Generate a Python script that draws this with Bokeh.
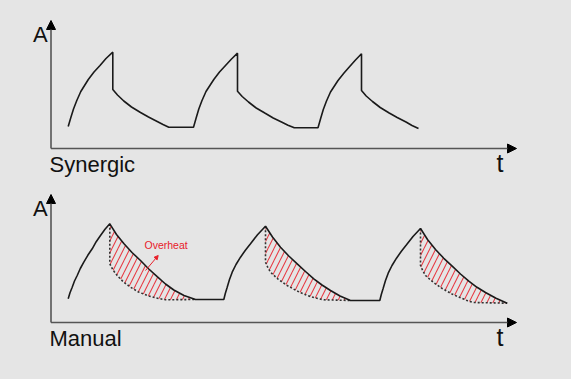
from bokeh.plotting import figure
from bokeh.layouts import column
from bokeh.models import Range1d, Arrow, NormalHead, Label
from bokeh.embed import file_html
from bokeh.resources import INLINE

# ---------------- data ----------------
# Synergic: amplitude A over time t
syn_t = [17.2, 19.7, 22.5, 25.8, 29.8, 37.3, 43.0, 49.0, 55.0, 61.8,
         61.8, 66.5, 72.8, 80.5, 89.5, 97.5, 106.2, 112.0, 117.8, 142.5,
         145.0, 147.8, 151.0, 155.0, 162.8, 168.5, 174.5, 180.5, 186.5,
         186.5, 191.2, 197.5, 205.2, 214.2, 222.2, 231.0, 237.0, 243.3, 267.0,
         269.5, 272.3, 275.5, 279.5, 287.0, 293.0, 298.7, 304.5, 310.5,
         310.5, 315.2, 321.5, 329.2, 338.2, 346.2, 355.0, 361.0, 367.5]
syn_A = [22.0, 30.5, 39.5, 48.0, 57.0, 69.0, 76.5, 83.0, 90.0, 96.3,
         59.0, 53.5, 47.5, 41.5, 36.0, 31.5, 27.0, 24.0, 21.3, 21.3,
         30.0, 39.5, 48.0, 57.0, 69.0, 76.5, 83.0, 89.5, 95.3,
         57.3, 52.0, 46.5, 40.5, 35.2, 30.5, 26.3, 23.3, 20.7, 20.7,
         29.5, 39.0, 47.5, 56.5, 68.0, 75.5, 82.0, 88.5, 94.7,
         58.0, 52.5, 47.0, 41.0, 35.5, 31.0, 26.5, 23.0, 20.0]

# Manual: amplitude A over time t
man_t = [17.2, 19.0, 21.2, 23.5, 26.2, 29.3, 32.8, 36.8, 41.2, 45.2, 49.5, 54.0, 58.8,
         65.5, 72.8, 81.0, 89.5, 97.8, 106.2, 114.5, 122.8, 133.0, 144.5,
         172.8, 174.3, 176.2, 178.5, 181.2, 185.0, 189.5, 194.2, 199.5, 206.5, 214.5,
         221.5, 229.5, 237.8, 246.2, 254.5, 262.8, 271.0, 279.5, 289.0, 299.5,
         328.8, 330.3, 332.2, 334.5, 337.2, 341.0, 345.5, 350.2, 355.5, 362.0, 369.5,
         376.5, 384.5, 392.8, 401.2, 409.5, 417.8, 426.0, 434.5, 445.0, 456.2]
man_A = [23.7, 29.8, 35.3, 41.5, 47.0, 54.0, 60.3, 67.2, 73.7, 80.8, 87.0, 93.2, 98.7,
         88.0, 79.0, 70.0, 62.0, 53.5, 45.8, 38.5, 32.5, 27.0, 23.0,
         23.0, 29.0, 35.3, 43.0, 50.3, 58.0, 65.3, 72.0, 78.7, 87.8, 96.3,
         85.5, 75.3, 66.5, 58.7, 51.0, 43.7, 37.5, 32.0, 26.5, 22.0,
         22.0, 28.0, 34.3, 42.0, 49.3, 57.0, 64.3, 71.0, 77.7, 86.0, 94.0,
         83.0, 73.0, 64.2, 56.3, 48.5, 41.3, 35.2, 30.0, 24.3, 19.3]

# Dotted (synergic-like) decay under each manual decay
dot_t = [[58.8, 58.8, 62.0, 66.2, 72.5, 79.5, 87.5, 96.2, 105.0, 114.5, 144.5],
         [214.5, 214.5, 216.8, 219.5, 227.5, 236.2, 246.0, 256.2, 264.5, 272.8, 299.5],
         [369.5, 369.5, 371.8, 374.5, 382.5, 391.2, 401.0, 411.2, 416.5, 422.2, 456.2]]
dot_A = [[98.7, 58.7, 52.5, 47.0, 40.5, 35.3, 30.5, 27.0, 24.5, 22.7, 23.0],
         [96.3, 60.3, 55.0, 50.3, 43.0, 37.0, 31.5, 27.0, 24.5, 22.7, 22.0],
         [94.0, 57.0, 51.8, 47.0, 40.0, 34.0, 28.5, 24.0, 21.8, 20.0, 19.3]]

axis_len_t = 465.5
axis_len_A = 128.0
panel_titles = ["Synergic", "Manual"]
overheat_text = "Overheat"

BG = "#e5e5e5"
INK = "#1a1a1a"
RED = "#e8202a"
FONT = "Liberation Sans"


def base_fig(h, ylo, yhi):
    p = figure(width=571, height=h, x_range=Range1d(-50.5, 520.5),
               y_range=Range1d(ylo, yhi), output_backend="svg",
               toolbar_location=None, min_border=0, min_border_left=0,
               min_border_right=0, min_border_top=0, min_border_bottom=0)
    p.axis.visible = False
    p.grid.visible = False
    p.outline_line_color = None
    p.background_fill_color = BG
    p.border_fill_color = BG
    return p


def add_axes(p, title):
    p.add_layout(Arrow(end=NormalHead(size=9, fill_color="black", line_color="black",
                                      line_width=1),
                       x_start=0, y_start=0, x_end=0, y_end=axis_len_A,
                       line_color="#555555", line_width=1.6))
    p.add_layout(Arrow(end=NormalHead(size=9, fill_color="black", line_color="black",
                                      line_width=1),
                       x_start=0, y_start=0, x_end=axis_len_t, y_end=0,
                       line_color="#555555", line_width=1.6))
    p.add_layout(Label(x=-18, y=114, text="A", text_font=FONT, text_font_size="22px",
                       text_color="#111111", text_baseline="alphabetic"))
    p.add_layout(Label(x=445.5, y=-14, text="t", text_font=FONT, text_font_size="25px",
                       text_color="#111111", text_baseline="alphabetic"))
    p.add_layout(Label(x=-1.5, y=-16, text=title, text_font=FONT, text_font_size="22px",
                       text_color="#111111", text_baseline="alphabetic"))


# ---------------- top panel ----------------
top = base_fig(188, -40, 148)
add_axes(top, panel_titles[0])
top.line(syn_t, syn_A, line_color=INK, line_width=1.6)

# ---------------- bottom panel ----------------
bot = base_fig(191, -57, 134)
add_axes(bot, panel_titles[1])

for dt, da in zip(dot_t, dot_A):
    s = man_t.index(dt[0])
    e = man_t.index(dt[-1]) + 1
    xs = man_t[s:e] + dt[::-1]
    ys = man_A[s:e] + da[::-1]
    bot.patch(xs, ys, fill_alpha=0, line_alpha=0, hatch_pattern="/",
              hatch_color=RED, hatch_scale=12, hatch_weight=1.1, hatch_alpha=0.85)
    bot.line(dt, da, line_color="#333333", line_width=1.6, line_dash="2 2")

bot.line(man_t, man_A, line_color=INK, line_width=1.6)

bot.add_layout(Arrow(end=NormalHead(size=4, fill_color=RED, line_color=RED, line_width=1),
                     x_start=94.5, y_start=52, x_end=107.2, y_end=67,
                     line_color=RED, line_width=1))
bot.add_layout(Label(x=93.5, y=77.5, text=overheat_text, text_font=FONT,
                     text_font_size="10.5px", text_color=RED,
                     text_baseline="alphabetic"))

layout = column(top, bot, spacing=0, background=BG)

html = file_html(layout, INLINE)
html = html.replace("<head>", "<head><style>html, body { background: #e5e5e5; }</style>", 1)
open("out.html", "w").write(html)
